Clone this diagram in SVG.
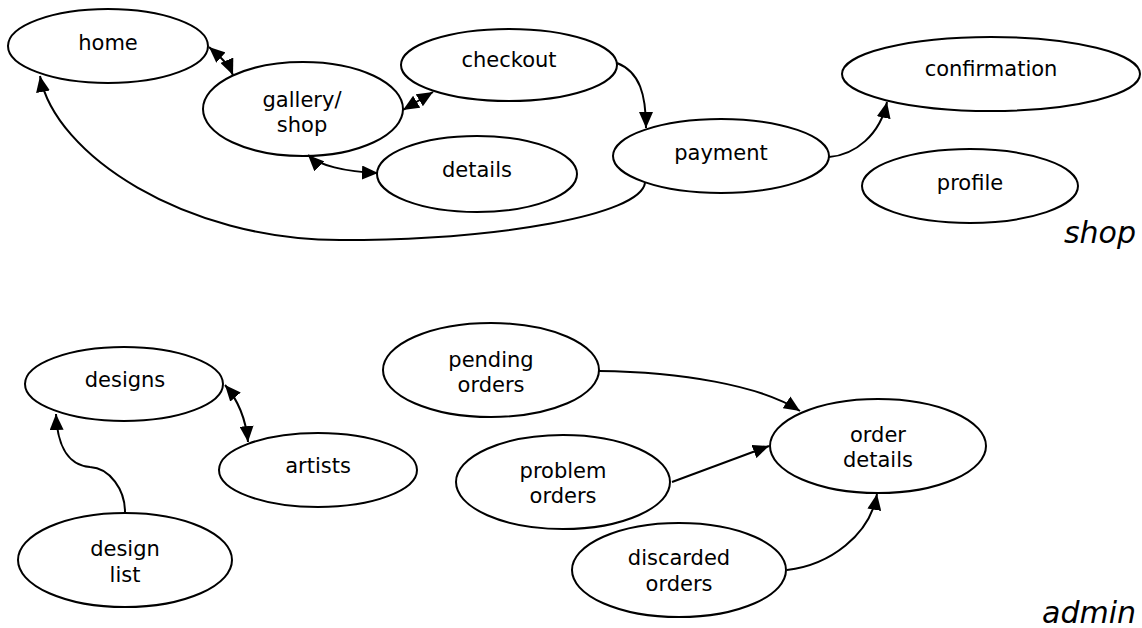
<svg xmlns="http://www.w3.org/2000/svg" width="1142" height="628" viewBox="0 0 1142 628">
  <style>
    .node ellipse { fill: #ffffff; stroke: #000000; stroke-width: 2; }
    .node text { font-family: "DejaVu Sans", Verdana, sans-serif; font-size: 21px; fill: #000000; text-anchor: middle; }
    .edge { fill: none; stroke: #000000; stroke-width: 2; }
    .one { marker-end: url(#arrow); }
    .both { marker-start: url(#arrow); marker-end: url(#arrow); }
    .section { font-family: "DejaVu Sans", Verdana, sans-serif; font-size: 30px; font-style: italic; text-anchor: end; fill: #000000; }
  </style>
  <defs>
    <marker id="arrow" viewBox="0 0 16 14" refX="16" refY="7" markerWidth="16" markerHeight="14" markerUnits="userSpaceOnUse" orient="auto-start-reverse">
      <path d="M0,0 L16,7 L0,14 z" fill="#000000"/>
    </marker>
  </defs>
  <rect width="1142" height="628" fill="#ffffff"/>

  <!-- shop pages -->
  <g id="home" class="node"><ellipse cx="108" cy="46" rx="100" ry="37"/><text x="108" y="50">home</text></g>
  <g id="gallery" class="node"><ellipse cx="303" cy="109" rx="100" ry="47"/><text x="302" y="107">gallery/</text><text x="302" y="132">shop</text></g>
  <g id="checkout" class="node"><ellipse cx="509" cy="65" rx="108" ry="36"/><text x="509" y="67">checkout</text></g>
  <g id="details" class="node"><ellipse cx="477" cy="174" rx="100" ry="38"/><text x="477" y="177">details</text></g>
  <g id="payment" class="node"><ellipse cx="721" cy="156" rx="108" ry="37"/><text x="721" y="160">payment</text></g>
  <g id="confirmation" class="node"><ellipse cx="991" cy="74" rx="149" ry="37"/><text x="991" y="76">confirmation</text></g>
  <g id="profile" class="node"><ellipse cx="970" cy="186" rx="108" ry="37"/><text x="970" y="190">profile</text></g>

  <!-- admin pages -->
  <g id="designs" class="node"><ellipse cx="124" cy="384" rx="99" ry="37"/><text x="125" y="387">designs</text></g>
  <g id="artists" class="node"><ellipse cx="318" cy="470" rx="99" ry="37"/><text x="318" y="473">artists</text></g>
  <g id="design-list" class="node"><ellipse cx="125" cy="560" rx="107" ry="47"/><text x="125" y="556">design</text><text x="125" y="582">list</text></g>
  <g id="pending-orders" class="node"><ellipse cx="491" cy="370" rx="108" ry="47"/><text x="491" y="367">pending</text><text x="491" y="392">orders</text></g>
  <g id="problem-orders" class="node"><ellipse cx="563" cy="482" rx="107" ry="47"/><text x="563" y="478">problem</text><text x="563" y="503">orders</text></g>
  <g id="order-details" class="node"><ellipse cx="878" cy="446" rx="108" ry="47"/><text x="878" y="442">order</text><text x="878" y="467">details</text></g>
  <g id="discarded-orders" class="node"><ellipse cx="679" cy="570" rx="107" ry="47"/><text x="679" y="565">discarded</text><text x="679" y="591">orders</text></g>

  <!-- connectors -->
  <g id="connectors">
    <path class="edge both" d="M 209 47 C 218 55, 228 63, 233 75"/>
    <path class="edge both" d="M 403 110 L 433 92"/>
    <path class="edge both" d="M 308 155 C 318 165, 345 172, 378 173"/>
    <path class="edge one" d="M 617 63 C 640 72, 646 95, 646 128"/>
    <path class="edge one" d="M 829 157 C 855 155, 880 135, 887 102"/>
    <path class="edge one" d="M 645 183 C 640 215, 500 240, 340 240 C 185 240, 55 155, 40 76"/>
    <path class="edge both" d="M 225 385 C 238 400, 246 420, 248 442"/>
    <path class="edge one" d="M 125 512 C 125 490, 110 468, 90 467 C 65 465, 57 440, 56 414"/>
    <path class="edge one" d="M 599 371 C 680 372, 760 385, 800 411"/>
    <path class="edge one" d="M 672 482 L 769 446"/>
    <path class="edge one" d="M 787 570 C 830 565, 870 535, 877 494"/>
  </g>

  <!-- section labels -->
  <text class="section" x="1136" y="243">shop</text>
  <text class="section" x="1136" y="623">admin</text>
</svg>
